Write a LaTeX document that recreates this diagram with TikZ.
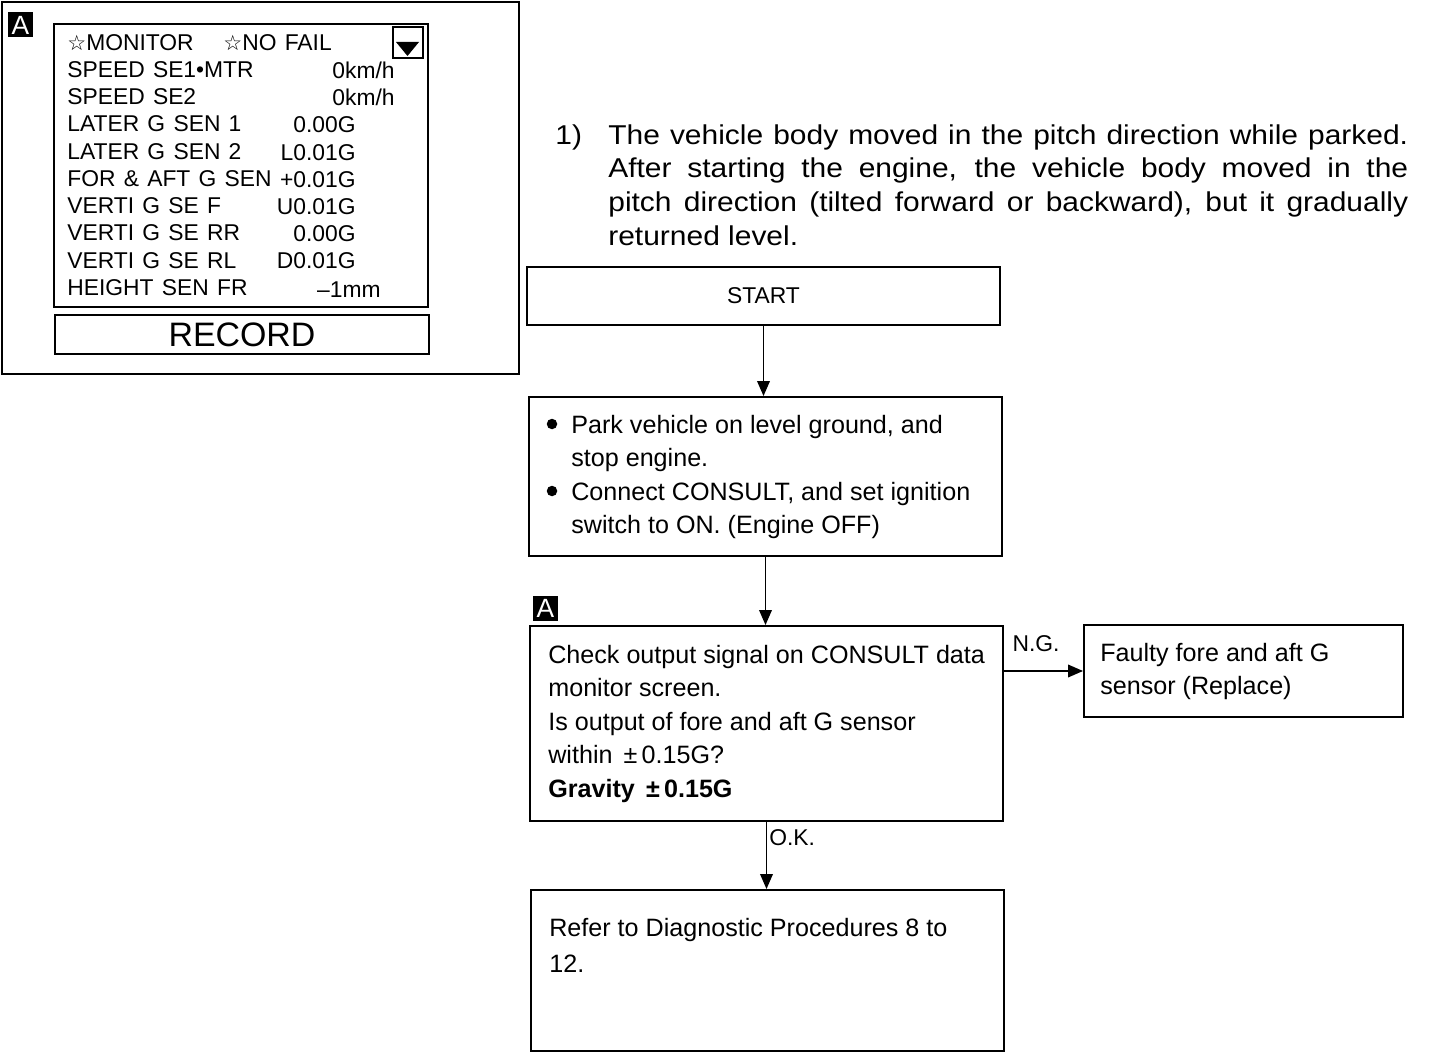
\documentclass[tikz,border=0pt]{standalone}
\usepackage{fontspec}
\setmainfont{Liberation Sans}
\newfontfamily\widefont[FakeStretch=1.1]{Liberation Sans}
\newfontfamily\scrfont[WordSpace=1.3]{Liberation Sans}
\newfontfamily\symfont{DejaVu Sans}
\usetikzlibrary{arrows.meta}

\begin{document}
\begin{tikzpicture}[x=0.02cm, y=-0.02cm,
  box/.style={draw, line width=1.1pt, inner sep=0pt},
  txt/.style={inner sep=0pt, anchor=north west, align=left, font=\fontsize{14.3}{19}\selectfont},
  scr/.style={inner sep=0pt, font=\scrfont\fontsize{13}{15.5}\selectfont},
  badge/.style={fill=black, text=white, inner sep=0pt, minimum width=0.5cm, minimum height=0.5cm, font=\fontsize{15}{15}\selectfont},
  dot/.style={circle, fill, inner sep=0pt, minimum size=0.21cm},
  arr/.style={line width=1.1pt, -{Triangle[length=0.3cm, width=0.25cm]}},
  lbl/.style={inner sep=0pt, font=\fontsize{13}{13}\selectfont}]

  \useasboundingbox (0,0) rectangle (1440,1054);

  % Monitor screen
  \node[box, minimum width=10.34cm, minimum height=7.44cm] (panel) at (260.5,188) {};
  \node[badge] (badgea) at (20.5,25) {A};
  \node[box, line width=1.5pt, minimum width=7.48cm, minimum height=5.66cm] (screen) at (241,165.5) {};
  \node[box, line width=1.5pt, minimum width=0.6cm, minimum height=0.62cm] (menu) at (408,42.5) {};
  \fill (396,42) -- (419,42) -- (407.5,56) -- cycle;
  \node[scr, anchor=north west, align=left] (items) at (67,34) {%
    {\symfont\fontsize{12}{12}\selectfont ☆}MONITOR\hspace{1.3em}{\symfont\fontsize{12}{12}\selectfont ☆}NO FAIL\\
    SPEED SE1•MTR\\
    SPEED SE2\\
    LATER G SEN 1\\
    LATER G SEN 2\\
    FOR \& AFT G SEN\\
    VERTI G SE F\\
    VERTI G SE RR\\
    VERTI G SE RL\\
    HEIGHT SEN FR};
  \node[scr, anchor=north east, align=right] (speeds) at (395,61.5) {0km/h\\0km/h};
  \node[scr, anchor=north east, align=right] (gvals) at (356,116.5) {0.00G\\L0.01G\\+0.01G\\U0.01G\\0.00G\\D0.01G};
  \node[scr, anchor=north east] (height) at (381,281) {–1mm};
  \node[box, line width=1.5pt, minimum width=7.48cm, minimum height=0.78cm, font=\fontsize{19.3}{20}\selectfont] (record) at (242,334.5) {RECORD};

  % Condition
  \node[inner sep=0pt, anchor=north west, font=\widefont\fontsize{15.5}{19.3}\selectfont] (num) at (555,124) {1)};
  \node[inner sep=0pt, anchor=north west, text width=16cm, align=justify, font=\widefont\fontsize{15.5}{19.3}\selectfont] (cond) at (608,124)
    {The vehicle body moved in the pitch direction while parked.\linebreak
     After starting the engine, the vehicle body moved in the\linebreak
     pitch direction (tilted forward or backward), but it gradually\linebreak
     returned level.};

  % Flow chart boxes
  \node[box, minimum width=9.46cm, minimum height=1.16cm, font=\fontsize{13}{13}\selectfont] (start) at (763.5,296) {START};
  \node[box, minimum width=9.46cm, minimum height=3.18cm] (park) at (765.5,476.5) {};
  \node[box, minimum width=9.46cm, minimum height=3.9cm] (check) at (766.5,723.5) {};
  \node[box, minimum width=6.38cm, minimum height=1.84cm] (faulty) at (1243.5,671) {};
  \node[box, minimum width=9.46cm, minimum height=3.22cm] (refer) at (767.5,970.5) {};
  \node[badge] (badgeb) at (545.5,608.5) {A};

  % Box texts
  \node[dot] (bul1) at (552,424) {};
  \node[dot] (bul2) at (552,491) {};
  \node[txt] (parktxt) at (571,415) {Park vehicle on level ground, and\\stop engine.\\Connect CONSULT, and set ignition\\switch to ON. (Engine OFF)};
  \node[txt] (checktxt) at (548,645) {Check output signal on CONSULT data\\monitor screen.\\Is output of fore and aft G sensor\\within \,±\,0.15G?\\\textbf{Gravity \,±\,0.15G}};
  \node[txt] (faultytxt) at (1100,643) {Faulty fore and aft G\\sensor (Replace)};
  \node[txt, font=\fontsize{14.3}{20.4}\selectfont] (refertxt) at (549,918) {Refer to Diagnostic Procedures 8 to\\12.};

  % Arrows
  \draw[arr] (start.south) -- (start.south |- park.north);
  \draw[arr] (park.south) -- (park.south |- check.north);
  \draw[arr] (check.south) -- (check.south |- refer.north);
  \draw[arr] (faulty.west -| check.east) -- (faulty.west);
  \node[lbl] (ng) at (1036,644) {N.G.};
  \node[lbl, anchor=west] (ok) at (769,838) {O.K.};

\end{tikzpicture}
\end{document}
